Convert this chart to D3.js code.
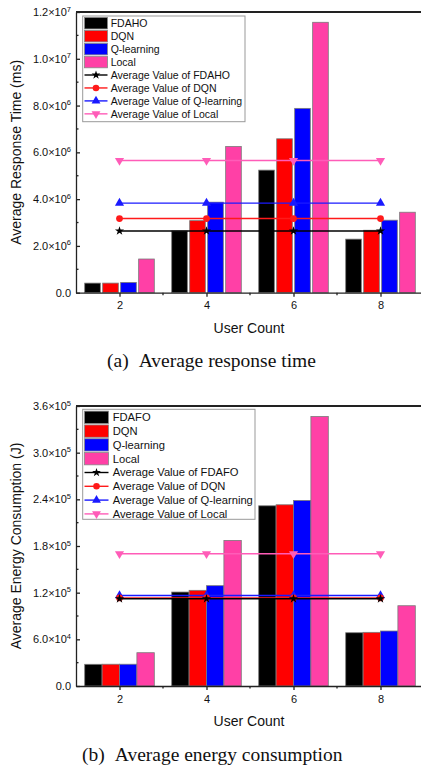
<!DOCTYPE html>
<html lang="en">
<head>
  <meta charset="UTF-8">
  <title>Average response time / energy consumption</title>
  <script src="https://d3js.org/d3.v7.min.js"></script>
  <style>
    body { margin: 0; background: #fff; }
    svg { display: block; }
    text { font-family: "Liberation Sans", Arial, sans-serif; fill: #111; }
    .caption { font-family: "Liberation Serif", "Times New Roman", serif; }
  </style>
</head>
<body>
<svg width="421" height="768"></svg>
<script>
// --- data ---
const userCounts = [2, 4, 6, 8];
const seriesColors = ['#000000', '#ff0000', '#0000ff', '#ff40a6'];
const lineColors = ['#000000', '#ff1a1a', '#1a1aff', '#ff5cb8'];

// (a) response time, ms
const namesA = ['FDAHO', 'DQN', 'Q-learning', 'Local'];
const timeFDAHO = [4.1e5, 2.64e6, 5.24e6, 2.29e6];
const timeDQN = [4.1e5, 3.08e6, 6.58e6, 2.67e6];
const timeQ = [4.4e5, 3.87e6, 7.88e6, 3.10e6];
const timeLocal = [1.44e6, 6.25e6, 11.56e6, 3.44e6];
const timeAvg = [2.64e6, 3.17e6, 3.83e6, 5.65e6];
const timeTicks = [0, 2e6, 4e6, 6e6, 8e6, 1e7, 1.2e7];

// (b) energy consumption, J
const namesB = ['FDAFO', 'DQN', 'Q-learning', 'Local'];
const energyFDAFO = [2.79e4, 1.208e5, 2.317e5, 6.85e4];
const energyDQN = [2.8e4, 1.23e5, 2.33e5, 6.9e4];
const energyQ = [2.8e4, 1.29e5, 2.386e5, 7.07e4];
const energyLocal = [4.28e4, 1.872e5, 3.465e5, 1.032e5];
const energyAvg = [1.122e5, 1.133e5, 1.163e5, 1.70e5];
const energyTicks = [0, 6e4, 1.2e5, 1.8e5, 2.4e5, 3.0e5, 3.6e5];

const svg = d3.select('svg');
const markers = [d3.symbolStar, d3.symbolCircle, d3.symbolTriangle, d3.symbolTriangle];
const markerSize = [26, 36, 36, 36];

function sciLabel(textSel, d) {
  textSel.text(null);
  if (d === 0) { textSel.text('0.0'); return; }
  const e = Math.floor(Math.log10(d) + 1e-9);
  const m = (d / Math.pow(10, e)).toFixed(1);
  textSel.append('tspan').text(m + '\u00d710');
  textSel.append('tspan').attr('dy', -4.5).attr('font-size', 7.5).text(e);
}

function drawPanel(cfg) {
  const g = svg.append('g');
  const x = d3.scaleLinear().domain([1, 9]).range([76, 424]);
  const y = d3.scaleLinear().domain([0, cfg.ticks[cfg.ticks.length - 1]]).range([cfg.bottom, cfg.top]);
  const band = d3.scaleBand().domain(cfg.names).range([-0.8, 0.8]).paddingInner(cfg.gap);

  // bars
  cfg.values.forEach((vals, i) => {
    g.append('g').selectAll('rect')
      .data(vals.map((v, j) => ({ c: userCounts[j], v })))
      .enter().append('rect')
      .attr('x', d => x(d.c + band(cfg.names[i])))
      .attr('width', x(band.bandwidth()) - x(0))
      .attr('y', d => y(d.v))
      .attr('height', d => y(0) - y(d.v))
      .attr('fill', seriesColors[i])
      .attr('stroke', '#7a7a7a')
      .attr('stroke-width', 0.8);
  });

  // average lines, drawn last series first so FDAHO ends on top
  const line = d3.line().x(d => x(d.c)).y(d => y(d.v));
  d3.range(cfg.avg.length).reverse().forEach(i => {
    const pts = userCounts.map(c => ({ c, v: cfg.avg[i] }));
    g.append('path').datum(pts)
      .attr('d', line).attr('fill', 'none')
      .attr('stroke', lineColors[i]).attr('stroke-width', 1.4);
    g.append('g').selectAll('path').data(pts).enter().append('path')
      .attr('d', d3.symbol().type(markers[i]).size(markerSize[i]))
      .attr('transform', d => `translate(${x(d.c)},${y(d.v)})` + (i === 3 ? ' rotate(180)' : ''))
      .attr('fill', lineColors[i]);
  });

  // axes
  const xAxis = g.append('g').attr('transform', `translate(0,${cfg.bottom})`)
    .call(d3.axisBottom(x).tickValues(userCounts).tickSize(4).tickSizeOuter(0).tickPadding(5));
  xAxis.selectAll('text').attr('font-size', 11).attr('font-family', 'Liberation Sans, Arial, sans-serif');
  xAxis.append('g').selectAll('line').data([3, 5, 7]).enter().append('line')
    .attr('x1', d => x(d)).attr('x2', d => x(d)).attr('y1', 0).attr('y2', 2.5);

  const yAxis = g.append('g').attr('transform', 'translate(76,0)')
    .call(d3.axisLeft(y).tickValues(cfg.ticks).tickSize(-4).tickSizeOuter(0).tickPadding(5));
  yAxis.selectAll('.tick text').attr('font-size', 11)
    .attr('font-family', 'Liberation Sans, Arial, sans-serif')
    .each(function (d) { sciLabel(d3.select(this), d); });
  const step = cfg.ticks[1] / 2;
  yAxis.append('g').selectAll('line')
    .data(d3.range(step, cfg.ticks[cfg.ticks.length - 1], cfg.ticks[1]))
    .enter().append('line')
    .attr('x1', 0).attr('x2', 2.5).attr('y1', d => y(d)).attr('y2', d => y(d));

  [xAxis, yAxis].forEach(a => {
    a.selectAll('path, line').attr('stroke', '#222').attr('stroke-width', 1.3);
  });

  // frame top / right
  g.append('path')
    .attr('d', `M76,${cfg.top}H${x(9)}V${cfg.bottom}`)
    .attr('fill', 'none').attr('stroke', '#222').attr('stroke-width', 1.8);

  // axis titles
  g.append('text')
    .attr('transform', `translate(21,${(cfg.top + cfg.bottom) / 2}) rotate(-90)`)
    .attr('text-anchor', 'middle').attr('font-size', 14).text(cfg.yTitle);
  g.append('text').attr('x', 249).attr('y', cfg.bottom + 40)
    .attr('text-anchor', 'middle').attr('font-size', 14).text('User Count');

  // legend
  const L = cfg.legend;
  const lg = g.append('g');
  lg.append('rect').attr('x', L.x).attr('y', L.y).attr('width', L.w).attr('height', L.h)
    .attr('fill', '#fff').attr('stroke', '#999').attr('stroke-width', 1);
  const rowY = k => L.y0 + k * L.step;
  cfg.names.forEach((n, i) => {
    lg.append('rect').attr('x', L.sx).attr('y', rowY(i) - L.sh / 2)
      .attr('width', L.sw).attr('height', L.sh)
      .attr('fill', seriesColors[i]).attr('stroke', '#888').attr('stroke-width', 0.8);
    lg.append('text').attr('x', L.tx).attr('y', rowY(i)).attr('dy', '0.35em')
      .attr('font-size', L.fs).text(n);
  });
  cfg.names.forEach((n, i) => {
    const yy = rowY(i + 4);
    lg.append('line').attr('x1', L.sx).attr('x2', L.sx + L.sw).attr('y1', yy).attr('y2', yy)
      .attr('stroke', lineColors[i]).attr('stroke-width', 1.4);
    lg.append('path').attr('d', d3.symbol().type(markers[i]).size(markerSize[i] - 2))
      .attr('transform', `translate(${L.sx + L.sw / 2},${yy})` + (i === 3 ? ' rotate(180)' : ''))
      .attr('fill', lineColors[i]);
    lg.append('text').attr('x', L.tx).attr('y', yy).attr('dy', '0.35em')
      .attr('font-size', L.fs).text('Average Value of ' + n);
  });

  // caption
  const cap = g.append('text').attr('class', 'caption').attr('x', cfg.capX).attr('y', cfg.capY)
    .attr('font-size', 19.5);
  cap.append('tspan').text(cfg.capLabel);
  cap.append('tspan').attr('dx', 10).text(cfg.capText);
}

drawPanel({
  names: namesA,
  values: [timeFDAHO, timeDQN, timeQ, timeLocal],
  avg: timeAvg,
  ticks: timeTicks,
  top: 12, bottom: 292.7, gap: 0.13,
  yTitle: 'Average Response Time (ms)',
  legend: { x: 82.7, y: 16, w: 162.3, h: 105.7, y0: 23.2, step: 12.95, sx: 84.5, sw: 23, sh: 11.5, tx: 110.7, fs: 10.5 },
  capX: 107, capY: 367, capLabel: '(a)', capText: 'Average response time'
});

drawPanel({
  names: namesB,
  values: [energyFDAFO, energyDQN, energyQ, energyLocal],
  avg: energyAvg,
  ticks: energyTicks,
  top: 406, bottom: 686, gap: 0,
  yTitle: 'Average Energy Consumption (J)',
  legend: { x: 82.7, y: 409.3, w: 172.3, h: 110, y0: 417.3, step: 13.8, sx: 84.5, sw: 24, sh: 12.3, tx: 112.7, fs: 11.2 },
  capX: 82, capY: 761, capLabel: '(b)', capText: 'Average energy consumption'
});
</script>
</body>
</html>
